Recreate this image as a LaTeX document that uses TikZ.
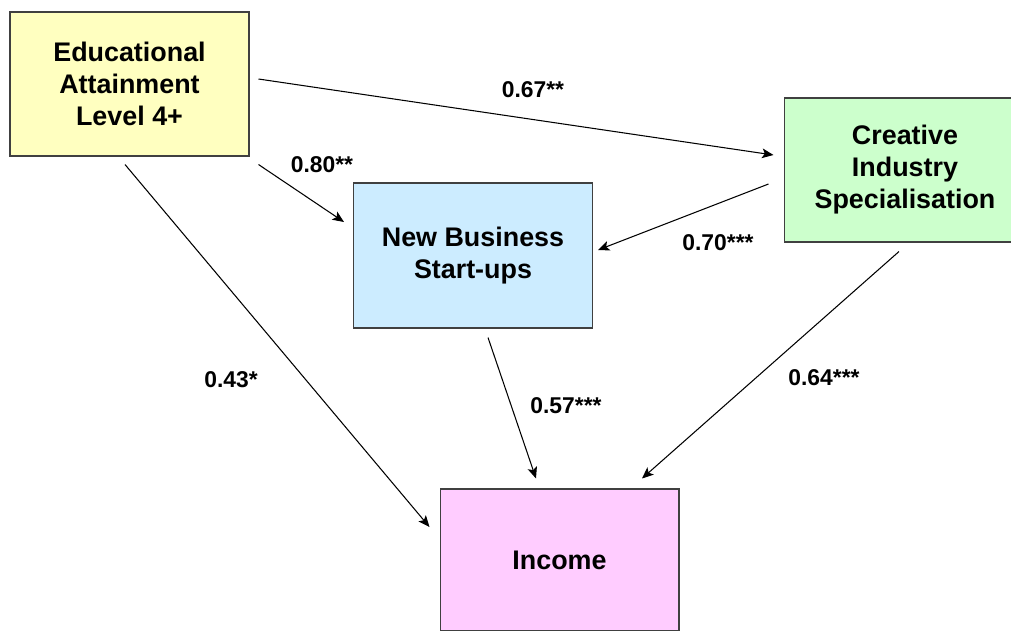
\documentclass[tikz,border=0pt]{standalone}
\usepackage{fontspec}
\setmainfont{Liberation Sans}
\usetikzlibrary{arrows.meta}

\definecolor{eduyellow}{HTML}{FFFFC0}
\definecolor{crgreen}{HTML}{CCFFCC}
\definecolor{nbblue}{HTML}{CCECFF}
\definecolor{incpink}{HTML}{FFCCFF}

\begin{document}
\begin{tikzpicture}[>={Stealth[length=6.5pt,width=5.5pt,inset=1.5pt]}, x=0.02cm, y=-0.02cm]
      % Node style
      \tikzset{
        box/.style={draw=black!75, line width=0.6pt, minimum width=4.78cm, minimum height=2.88cm,
          align=center, font=\fontsize{15.3}{18.2}\selectfont\bfseries},
        coef/.style={font=\fontsize{13}{15}\selectfont\bfseries, inner sep=1pt},
        path/.style={->, line width=0.6pt},
      }
      \useasboundingbox (0,0) rectangle (1011,630);
      \clip (0,0) rectangle (1011,630);
      % Nodes
      \node (edu) [box, fill=eduyellow] at (129.5,84) {Educational\\Attainment\\Level 4+};
      \node (newbiz) [box, fill=nbblue, minimum height=2.9cm] at (473,255.5) {New Business\\Start-ups};
      \node (creative) [box, fill=crgreen, minimum width=4.84cm] at (905,170) {Creative\\Industry\\Specialisation};
      \node (income) [box, fill=incpink, minimum height=2.84cm] at (559.5,560) {Income};
      % Coefficients
      \node (c1) [coef] at (533,90) {0.67**};
      \node (c2) [coef] at (322,165) {0.80**};
      \node (c3) [coef] at (718,243) {0.70***};
      \node (c4) [coef] at (231,380) {0.43*};
      \node (c5) [coef] at (566,406) {0.57***};
      \node (c6) [coef] at (824,378) {0.64***};
      % Arrows
      \draw[path] ([shift={(9,-5)}]edu.east) -- ([shift={(-10,-15)}]creative.west);
      \draw[path] ([shift={(9,8)}]edu.south east) -- ([shift={(-9,-33.5)}]newbiz.west);
      \draw[path] ([shift={(-15,14)}]creative.west) -- ([shift={(5,-5.5)}]newbiz.east);
      \draw[path] ([shift={(-4.5,8)}]edu.south) -- ([shift={(-10,-33)}]income.west);
      \draw[path] ([shift={(15,9)}]newbiz.south) -- ([shift={(-23.5,-10)}]income.north);
      \draw[path] ([shift={(-6,9)}]creative.south) -- ([shift={(82.5,-10)}]income.north);
    \end{tikzpicture}
\end{document}
